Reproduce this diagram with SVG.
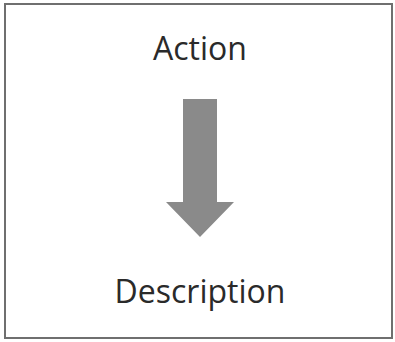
<svg xmlns="http://www.w3.org/2000/svg" width="395" height="342" viewBox="0 0 395 342">
  <style>
    .label { font-family: "Open Sans", "Liberation Sans", sans-serif; font-size: 32px; fill: #2a2a2a; text-anchor: middle; }
  </style>
  <rect x="0" y="0" width="395" height="342" fill="#ffffff"/>
  <!-- outer frame -->
  <rect x="5" y="4" width="387" height="334" fill="#ffffff" stroke="#6f6f6f" stroke-width="2"/>
  <g id="action">
    <text class="label" x="200" y="60">Action</text>
  </g>
  <g id="connectors">
    <path d="M183 99 H217 V202 H234 L200 237 L166 202 H183 Z" fill="#8a8a8a"/>
  </g>
  <g id="description">
    <text class="label" x="200" y="303">Description</text>
  </g>
</svg>
